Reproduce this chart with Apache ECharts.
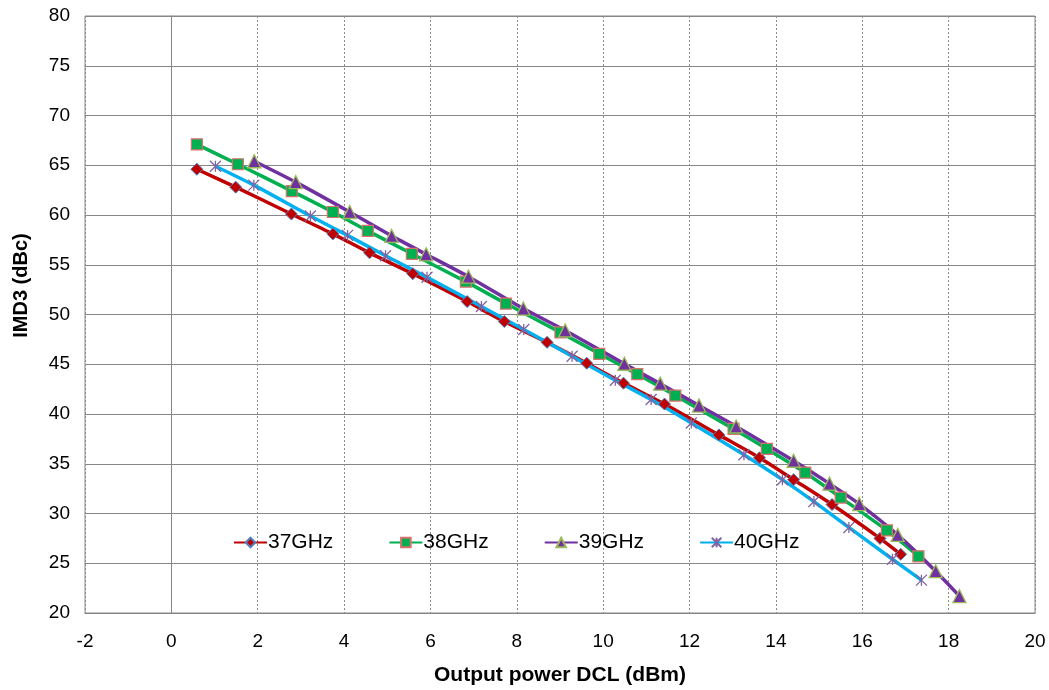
<!DOCTYPE html>
<html><head><meta charset="utf-8">
<script src="https://cdn.jsdelivr.net/npm/echarts@6/dist/echarts.min.js"></script>
<style>html,body{margin:0;padding:0;background:#fff}#c{width:1049px;height:690px}</style>
</head><body><div id="c"></div>
<script>
const seriesNames = ['37GHz', '38GHz', '39GHz', '40GHz'];
const xTicks = [-2, 20, 2];
const yTicks = [20, 80, 5];

const d37 = [[0.59,64.6],[1.49,62.8],[2.78,60.1],[3.74,58.1],[4.59,56.2],[5.59,54.1],[6.85,51.3],[7.71,49.3],[8.70,47.2],[9.62,45.1],[10.47,43.1],[11.42,41.0],[12.68,37.9],[13.62,35.6],[14.41,33.4],[15.30,30.9],[16.41,27.5],[16.89,25.9]];
const d38 = [[0.59,67.1],[1.54,65.1],[2.79,62.4],[3.74,60.3],[4.55,58.4],[5.57,56.1],[6.82,53.3],[7.75,51.1],[9.01,48.2],[9.91,46.05],[10.79,44.0],[11.67,41.85],[13.02,38.5],[13.79,36.5],[14.68,34.1],[15.50,31.6],[16.57,28.3],[17.30,25.7]];
const d39 = [[1.92,65.4],[2.88,63.3],[4.13,60.3],[5.10,57.9],[5.90,56.05],[6.88,53.8],[8.15,50.6],[9.12,48.4],[10.49,45.05],[11.32,43.05],[12.22,40.85],[13.08,38.75],[14.41,35.3],[15.24,33.0],[15.93,30.95],[16.82,27.85],[17.70,24.2],[18.25,21.7]];
const d40 = [[1.02,64.9],[1.91,63.0],[3.22,59.9],[4.08,57.95],[4.96,55.9],[5.92,53.75],[7.18,50.8],[8.16,48.5],[9.28,45.8],[10.28,43.4],[11.11,41.45],[12.04,39.1],[13.26,35.9],[14.15,33.4],[14.88,31.2],[15.69,28.6],[16.70,25.4],[17.37,23.3]];

const FONT = 'Liberation Sans';
const chart = echarts.init(document.getElementById('c'), null, {renderer: 'canvas'});

function mk(name, data, lineColor, symbol, size, fill, border, bw) {
  return {
    name, type: 'line', data, smooth: 0.25,
    symbol, symbolSize: size, showSymbol: true,
    lineStyle: {color: lineColor, width: 3.5},
    itemStyle: {color: fill, borderColor: border, borderWidth: bw},
    emphasis: {disabled: true},
    z: 2
  };
}
const star = 'path://M0,0L10,10M10,0L0,10M5,0L5,10';

chart.setOption({
  animation: false,
  backgroundColor: '#fff',
  textStyle: {fontFamily: FONT},
  grid: {left: 85, right: 14, top: 16, bottom: 77, show: true, borderColor: '#868686', borderWidth: 1, outerBoundsMode: 'none', containLabel: false},
  legend: {
    data: seriesNames, left: 228, top: 527, itemGap: 55, itemWidth: 33, itemHeight: 12,
    textStyle: {fontFamily: FONT, fontSize: 21, color: '#000', padding: [0, 0, 0, -4]}
  },
  xAxis: {
    type: 'value', min: xTicks[0], max: xTicks[1], interval: xTicks[2],
    name: 'Output power DCL (dBm)', nameLocation: 'middle', nameGap: 52,
    nameTextStyle: {fontFamily: FONT, fontSize: 21, fontWeight: 'bold', color: '#000'},
    axisLine: {show: true, lineStyle: {color: '#868686'}},
    axisTick: {show: false},
    axisLabel: {fontFamily: FONT, fontSize: 19, color: '#000', margin: 19},
    splitLine: {show: true, lineStyle: {color: '#8c8c8c', type: [2, 2], width: 1}}
  },
  yAxis: {
    type: 'value', min: yTicks[0], max: yTicks[1], interval: yTicks[2],
    name: 'IMD3 (dBc)', nameLocation: 'middle', nameGap: 54,
    nameTextStyle: {fontFamily: FONT, fontSize: 20, fontWeight: 'bold', color: '#000', padding: [0, 0, 0, 58]},
    axisLine: {show: true, lineStyle: {color: '#868686'}},
    axisTick: {show: false},
    axisLabel: {fontFamily: FONT, fontSize: 19, color: '#000', margin: 15},
    splitLine: {show: true, lineStyle: {color: '#868686', width: 1}}
  },
  series: [
    mk('37GHz', d37, '#C00000', 'diamond', 12, '#C00000', '#4F81BD', 1),
    mk('38GHz', d38, '#00B050', 'rect', 11, '#00B050', '#D9706C', 1.2),
    mk('39GHz', d39, '#7030A0', 'triangle', 13, '#7030A0', '#9BBB59', 1.3),
    mk('40GHz', d40, '#00B0F0', star, 11, 'rgba(0,0,0,0)', '#8064A2', 1.3)
  ]
});
</script></body></html>
